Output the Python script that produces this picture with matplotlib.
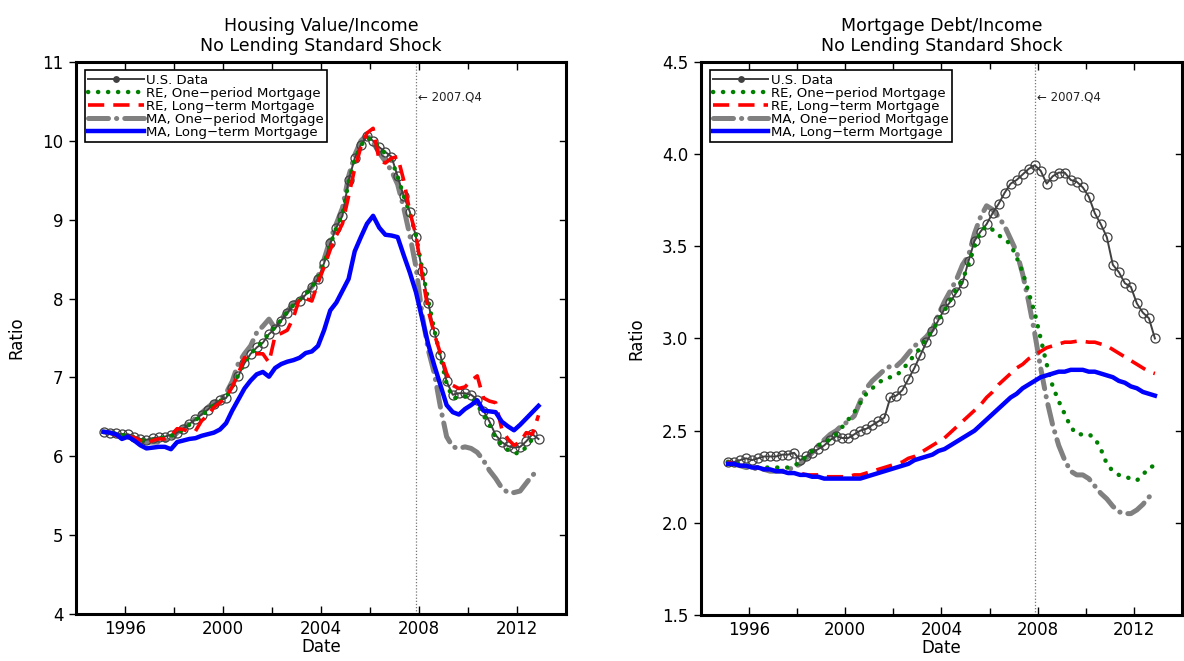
import numpy as np
import pandas as pd
import matplotlib
matplotlib.use("Agg")
import matplotlib.pyplot as plt
from matplotlib.lines import Line2D
from matplotlib.legend_handler import HandlerLine2D
import matplotlib.transforms as mtransforms

plt.rcParams['font.family'] = ['DejaVu Sans']

# ---------------- data ----------------
quarters = pd.period_range('1995Q1', '2012Q4', freq='Q')
shock_date = 2007.875
shock_label = "\u2190 2007.Q4"

series_labels = ["U.S. Data", "RE, One\u2212period Mortgage", "RE, Long\u2212term Mortgage",
                 "MA, One\u2212period Mortgage", "MA, Long\u2212term Mortgage"]

xticks = [1996, 2000, 2004, 2008, 2012]

# Housing Value / Income
hv_us = [6.31, 6.30, 6.29, 6.28, 6.28, 6.25, 6.22, 6.21,
         6.23, 6.24, 6.25, 6.27, 6.30, 6.35, 6.41, 6.47,
         6.53, 6.59, 6.66, 6.71, 6.74, 6.87, 7.02, 7.18,
         7.30, 7.38, 7.44, 7.55, 7.62, 7.72, 7.82, 7.92,
         7.97, 8.05, 8.15, 8.25, 8.45, 8.70, 8.90, 9.05,
         9.50, 9.78, 9.95, 10.06, 10.00, 9.92, 9.86, 9.80,
         9.55, 9.30, 9.10, 8.78, 8.35, 7.95, 7.58, 7.28,
         6.95, 6.78, 6.80, 6.80, 6.78, 6.72, 6.58, 6.44,
         6.27, 6.18, 6.13, 6.11, 6.12, 6.19, 6.28, 6.22]
hv_re1 = [6.31, 6.30, 6.29, 6.27, 6.26, 6.24, 6.21, 6.20,
          6.21, 6.23, 6.24, 6.26, 6.29, 6.34, 6.40, 6.46,
          6.52, 6.58, 6.65, 6.70, 6.75, 6.88, 7.03, 7.18,
          7.30, 7.38, 7.46, 7.56, 7.64, 7.73, 7.83, 7.92,
          7.98, 8.06, 8.15, 8.26, 8.45, 8.68, 8.90, 9.07,
          9.48, 9.76, 9.94, 10.04, 10.00, 9.92, 9.84, 9.76,
          9.55, 9.30, 9.08, 8.80, 8.38, 7.98, 7.60, 7.26,
          6.92, 6.74, 6.74, 6.76, 6.74, 6.66, 6.52, 6.40,
          6.24, 6.14, 6.08, 6.04, 6.04, 6.12, 6.22, 6.26]
hv_re2 = [6.31, 6.30, 6.27, 6.22, 6.25, 6.24, 6.20, 6.16,
          6.20, 6.22, 6.22, 6.26, 6.35, 6.34, 6.31, 6.32,
          6.45, 6.52, 6.62, 6.68, 6.75, 6.88, 7.05, 7.25,
          7.28, 7.30, 7.30, 7.19, 7.53, 7.56, 7.60, 7.76,
          8.01, 8.00, 7.97, 8.20, 8.40, 8.62, 8.80, 8.95,
          9.30, 9.65, 9.92, 10.10, 10.16, 9.75, 9.72, 9.78,
          9.80, 9.50, 9.10, 8.80, 8.30, 7.85, 7.55, 7.30,
          7.05, 6.90, 6.86, 6.88, 6.96, 7.02, 6.74, 6.70,
          6.68, 6.35, 6.22, 6.14, 6.18, 6.30, 6.28, 6.52]
hv_ma1 = [6.31, 6.30, 6.28, 6.26, 6.27, 6.23, 6.19, 6.18,
          6.18, 6.18, 6.20, 6.22, 6.30, 6.36, 6.42, 6.48,
          6.55, 6.62, 6.68, 6.72, 6.80, 6.95, 7.18, 7.30,
          7.40, 7.57, 7.65, 7.74, 7.62, 7.74, 7.84, 7.94,
          7.98, 8.06, 8.15, 8.28, 8.50, 8.75, 8.95, 9.15,
          9.55, 9.82, 10.00, 10.08, 9.98, 9.85, 9.74, 9.62,
          9.45, 9.15, 8.80, 8.40, 7.80, 7.35, 7.05, 6.62,
          6.25, 6.12, 6.10, 6.12, 6.10, 6.05, 5.95, 5.82,
          5.72, 5.60, 5.54, 5.54, 5.56, 5.66, 5.76, 5.82]
hv_ma2 = [6.31, 6.30, 6.28, 6.22, 6.25, 6.20, 6.14, 6.10,
          6.11, 6.12, 6.12, 6.09, 6.18, 6.20, 6.22, 6.23,
          6.26, 6.28, 6.30, 6.34, 6.42, 6.58, 6.72, 6.86,
          6.96, 7.04, 7.07, 7.01, 7.12, 7.17, 7.20, 7.22,
          7.25, 7.31, 7.33, 7.40, 7.60, 7.85, 7.95, 8.10,
          8.25, 8.60, 8.78, 8.95, 9.05, 8.90, 8.81, 8.80,
          8.78, 8.55, 8.33, 8.08, 7.75, 7.42, 7.15, 6.90,
          6.65, 6.56, 6.53, 6.60, 6.65, 6.71, 6.58, 6.57,
          6.56, 6.44, 6.38, 6.33, 6.40, 6.48, 6.56, 6.64]

# Mortgage Debt / Income
md_us = [2.33, 2.33, 2.34, 2.35, 2.34, 2.35, 2.36, 2.36,
         2.36, 2.37, 2.37, 2.38, 2.34, 2.36, 2.38, 2.40,
         2.42, 2.45, 2.47, 2.46, 2.46, 2.48, 2.50, 2.51,
         2.53, 2.55, 2.57, 2.68, 2.69, 2.72, 2.78, 2.84,
         2.91, 2.98, 3.04, 3.10, 3.16, 3.20, 3.25, 3.30,
         3.42, 3.53, 3.58, 3.62, 3.68, 3.73, 3.79, 3.84,
         3.86, 3.89, 3.92, 3.94, 3.91, 3.84, 3.88, 3.90,
         3.90, 3.86, 3.85, 3.82, 3.77, 3.68, 3.62, 3.55,
         3.40, 3.36, 3.30, 3.28, 3.19, 3.14, 3.11, 3.00]
md_re1 = [2.33, 2.32, 2.32, 2.31, 2.31, 2.30, 2.30, 2.30,
          2.30, 2.30, 2.30, 2.31, 2.33, 2.36, 2.39, 2.42,
          2.44, 2.45, 2.48, 2.52, 2.56, 2.60, 2.65, 2.70,
          2.73, 2.76, 2.78, 2.79, 2.80, 2.83, 2.87, 2.91,
          2.95, 3.00, 3.04, 3.10, 3.15, 3.21, 3.27, 3.32,
          3.40, 3.50, 3.58, 3.61, 3.59, 3.56, 3.54, 3.51,
          3.44, 3.36, 3.25, 3.14, 3.00, 2.86, 2.74, 2.66,
          2.59, 2.52, 2.48, 2.48, 2.48, 2.46, 2.40, 2.32,
          2.28, 2.26, 2.25, 2.24, 2.23, 2.26, 2.30, 2.31]
md_re2 = [2.33, 2.32, 2.31, 2.31, 2.30, 2.30, 2.29, 2.29,
          2.28, 2.28, 2.27, 2.27, 2.27, 2.26, 2.26, 2.26,
          2.25, 2.25, 2.25, 2.25, 2.25, 2.26, 2.26, 2.27,
          2.28, 2.29, 2.30, 2.31, 2.32, 2.33, 2.35, 2.36,
          2.38, 2.40, 2.42, 2.44, 2.46, 2.49, 2.52, 2.55,
          2.58, 2.61, 2.64, 2.68, 2.71, 2.75, 2.78, 2.81,
          2.84, 2.86, 2.89, 2.91, 2.93, 2.95, 2.96, 2.97,
          2.98, 2.98, 2.985, 2.985, 2.98, 2.98, 2.97, 2.96,
          2.94, 2.92, 2.90, 2.88, 2.86, 2.84, 2.82, 2.81]
md_ma1 = [2.33, 2.32, 2.31, 2.30, 2.30, 2.29, 2.29, 2.28,
          2.28, 2.28, 2.29, 2.30, 2.32, 2.35, 2.38, 2.42,
          2.45, 2.48, 2.50, 2.53, 2.55, 2.58, 2.66, 2.73,
          2.77, 2.80, 2.83, 2.85, 2.85, 2.88, 2.92, 2.96,
          2.98, 3.01, 3.05, 3.13, 3.20, 3.26, 3.32, 3.40,
          3.45, 3.57, 3.66, 3.72, 3.70, 3.66, 3.61, 3.54,
          3.47, 3.35, 3.20, 3.03, 2.84, 2.67, 2.53, 2.42,
          2.34, 2.28, 2.26, 2.26, 2.24, 2.20, 2.16, 2.13,
          2.09, 2.06, 2.05, 2.05, 2.07, 2.10, 2.14, 2.16]
md_ma2 = [2.32, 2.32, 2.31, 2.31, 2.30, 2.30, 2.29, 2.29,
          2.28, 2.28, 2.27, 2.27, 2.26, 2.26, 2.25, 2.25,
          2.24, 2.24, 2.24, 2.24, 2.24, 2.24, 2.24, 2.25,
          2.26, 2.27, 2.28, 2.29, 2.30, 2.31, 2.32, 2.34,
          2.35, 2.36, 2.37, 2.39, 2.40, 2.42, 2.44, 2.46,
          2.48, 2.50, 2.53, 2.56, 2.59, 2.62, 2.65, 2.68,
          2.70, 2.73, 2.75, 2.77, 2.79, 2.80, 2.81, 2.82,
          2.82, 2.83, 2.83, 2.83, 2.82, 2.82, 2.81, 2.80,
          2.79, 2.77, 2.76, 2.74, 2.73, 2.71, 2.70, 2.69]

# ---------------- styles ----------------
dates = np.array([q.year + (q.quarter - 0.5) / 4.0 for q in quarters])

styles = [
    dict(color='#404040', lw=1.4, ls='-', marker='o', ms=6.5, mfc='none', mec='#404040', mew=0.9, zorder=3),
    dict(color='#008000', lw=3.2, ls=(0, (0.05, 2.2)), dash_capstyle='round', zorder=4),
    dict(color='#ff0000', lw=2.6, ls=(0, (4.5, 2.5)), zorder=5),
    dict(color='#808080', lw=3.6, ls=(0, (4.0, 1.6, 0.05, 1.6)), dash_capstyle='round', zorder=2),
    dict(color='#0000ff', lw=3.2, ls='-', zorder=6),
]


class LeftMarkerHandler(HandlerLine2D):
    def get_xdata(self, legend, xdescent, ydescent, width, height, fontsize):
        xdata, xmark = super().get_xdata(legend, xdescent, ydescent, width, height, fontsize)
        return xdata, np.array([xdata[0] + 1.5])


def make_handles():
    h = []
    for i, st in enumerate(styles):
        st2 = dict(st)
        st2.pop('zorder', None)
        if i == 0:
            st2.update(marker='o', ms=4, mfc='#404040', mec='#404040')
        h.append(Line2D([], [], **st2))
    return h


def draw_panel(ax, data, title, ylim, yticks, yfmt):
    for vals, st, lab in zip(data, styles, series_labels):
        ax.plot(dates, vals, label=lab, **st)
    ax.axvline(shock_date, color='#777777', lw=0.9, ls=(0, (1, 1.5)), zorder=1)
    trans = mtransforms.blended_transform_factory(ax.transData, ax.transAxes)
    ax.text(shock_date + 0.1, 0.936, shock_label, transform=trans, fontsize=8.5,
            va='center', ha='left', color='#222222')
    ax.set_xlim(1994, 2014)
    ax.set_ylim(*ylim)
    ax.set_xticks(xticks)
    ax.set_xticks(np.arange(1996, 2014, 2), minor=True)
    ax.set_yticks(yticks)
    ax.set_yticklabels([yfmt.format(v) for v in yticks])
    ax.tick_params(axis='x', which='both', direction='in', top=True, length=6, width=1, labelsize=12, pad=4)
    ax.tick_params(axis='x', which='minor', length=5)
    ax.tick_params(axis='y', which='both', direction='out', right=False, length=5, width=1, labelsize=12, pad=4)
    for sp in ax.spines.values():
        sp.set_linewidth(2.2)
    ax.set_xlabel('Date', fontsize=12, labelpad=0)
    ax.set_ylabel('Ratio', fontsize=12, labelpad=12)
    ax.set_title(title, fontsize=12.5, linespacing=1.15, pad=8)
    # right side inward ticks
    for yv in yticks:
        ax.plot([1, 0.988], [ax.transLimits.transform((0, yv))[1]] * 2,
                transform=ax.transAxes, color='black', lw=1, clip_on=False)
    leg = ax.legend(handles=make_handles(), labels=series_labels, loc='upper left',
                    bbox_to_anchor=(0.018, 0.985), fontsize=9.5, handlelength=4.2,
                    handletextpad=0.2, labelspacing=0.0, borderpad=0.25,
                    borderaxespad=0.0, fancybox=False, framealpha=1,
                    edgecolor='black', handler_map={Line2D: LeftMarkerHandler()})
    leg.get_frame().set_linewidth(1.2)
    leg.set_zorder(10)


fig = plt.figure(figsize=(11.84, 6.61), dpi=100)
ax1 = fig.add_axes([0.0642, 0.0711, 0.4139, 0.835])
ax2 = fig.add_axes([0.592, 0.0696, 0.4063, 0.8366])

draw_panel(ax1, [hv_us, hv_re1, hv_re2, hv_ma1, hv_ma2],
           "Housing Value/Income\nNo Lending Standard Shock",
           (4, 11), [4, 5, 6, 7, 8, 9, 10, 11], "{:.0f}")
draw_panel(ax2, [md_us, md_re1, md_re2, md_ma1, md_ma2],
           "Mortgage Debt/Income\nNo Lending Standard Shock",
           (1.5, 4.5), [1.5, 2.0, 2.5, 3.0, 3.5, 4.0, 4.5], "{:.1f}")

fig.savefig('out.png', dpi=100)
